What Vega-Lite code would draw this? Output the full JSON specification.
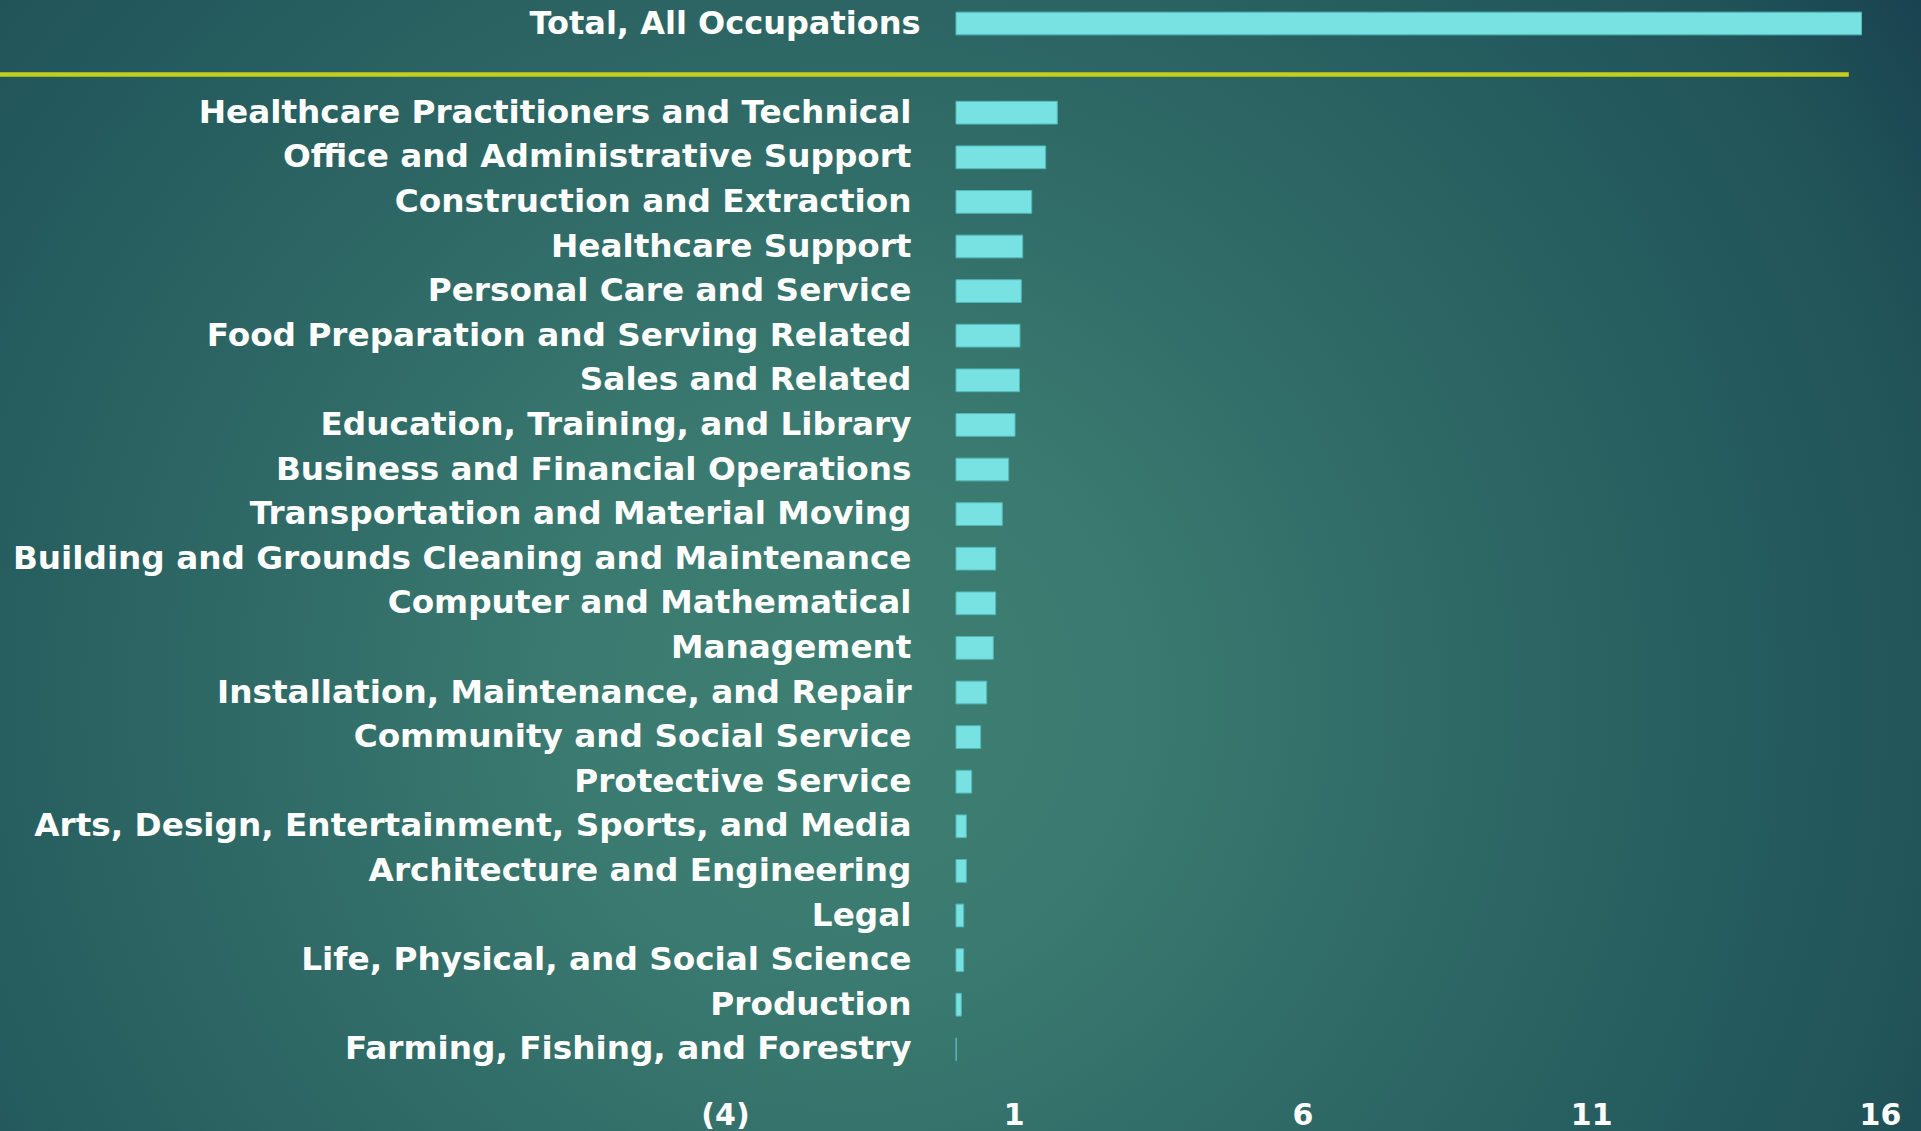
{
  "$schema": "https://vega.github.io/schema/vega-lite/v6.json",
  "width": 1921,
  "height": 1131,
  "autosize": {"type": "none"},
  "padding": 0,
  "background": "#1f4f58",
  "config": {"view": {"stroke": null}},
  "datasets": {
    "jobs": [
      {"occupation": "Total, All Occupations", "value": 15.68},
      {"occupation": "Healthcare Practitioners and Technical", "value": 1.754},
      {"occupation": "Office and Administrative Support", "value": 1.553},
      {"occupation": "Construction and Extraction", "value": 1.311},
      {"occupation": "Healthcare Support", "value": 1.155},
      {"occupation": "Personal Care and Service", "value": 1.131},
      {"occupation": "Food Preparation and Serving Related", "value": 1.108},
      {"occupation": "Sales and Related", "value": 1.1},
      {"occupation": "Education, Training, and Library", "value": 1.022},
      {"occupation": "Business and Financial Operations", "value": 0.912},
      {"occupation": "Transportation and Material Moving", "value": 0.802},
      {"occupation": "Building and Grounds Cleaning and Maintenance", "value": 0.687},
      {"occupation": "Computer and Mathematical", "value": 0.687},
      {"occupation": "Management", "value": 0.646},
      {"occupation": "Installation, Maintenance, and Repair", "value": 0.531},
      {"occupation": "Community and Social Service", "value": 0.427},
      {"occupation": "Protective Service", "value": 0.271},
      {"occupation": "Arts, Design, Entertainment, Sports, and Media", "value": 0.179},
      {"occupation": "Architecture and Engineering", "value": 0.179},
      {"occupation": "Legal", "value": 0.133},
      {"occupation": "Life, Physical, and Social Science", "value": 0.133},
      {"occupation": "Production", "value": 0.092},
      {"occupation": "Farming, Fishing, and Forestry", "value": 0.005}
    ]
  },
  "layer": [
    {
      "data": {"values": [{}]},
      "mark": {
        "type": "rect",
        "fill": {
          "gradient": "radial",
          "x1": 0.44, "y1": 0.57, "r1": 0,
          "x2": 0.44, "y2": 0.57, "r2": 0.7,
          "stops": [
            {"offset": 0, "color": "#3e7f73"},
            {"offset": 0.21, "color": "#3a7a70"},
            {"offset": 0.43, "color": "#306b67"},
            {"offset": 0.67, "color": "#255c5e"},
            {"offset": 0.82, "color": "#215459"},
            {"offset": 1, "color": "#163d4d"}
          ]
        }
      },
      "encoding": {
        "x": {"datum": -16.554, "type": "quantitative", "scale": {"domain": [-16.554, 16.71], "nice": false, "zero": false}},
        "x2": {"datum": 16.71}
      }
    },
    {
      "data": {"values": [{}]},
      "mark": {"type": "rule", "color": "#C6CE1C", "strokeWidth": 4.5, "yOffset": 6.4},
      "encoding": {
        "x": {"datum": -16.554, "type": "quantitative"},
        "x2": {"datum": 15.46},
        "y": {"datum": " ", "type": "nominal"}
      }
    },
    {
      "data": {"name": "jobs"},
      "mark": {"type": "bar", "fill": "#78E2E2", "stroke": "#52b8b8", "strokeWidth": 1},
      "encoding": {
        "x": {
          "field": "value",
          "type": "quantitative",
          "axis": {
            "values": [-4, 1, 6, 11, 16],
            "labelExpr": "datum.value < 0 ? '(' + abs(datum.value) + ')' : datum.value",
            "title": null,
            "domain": false,
            "ticks": false,
            "tickSize": 0,
            "grid": false,
            "labelPadding": 0,
            "offset": -31,
            "labelFont": "DejaVu Sans",
            "labelFontWeight": "bold",
            "labelFontSize": 30,
            "labelColor": "#ffffff",
            "labelFlush": false,
            "labelOverlap": false,
            "zindex": 1
          }
        },
        "y": {
          "field": "occupation",
          "type": "nominal",
          "sort": null,
          "scale": {
            "domain": [
              "Total, All Occupations",
              " ",
              "Healthcare Practitioners and Technical",
              "Office and Administrative Support",
              "Construction and Extraction",
              "Healthcare Support",
              "Personal Care and Service",
              "Food Preparation and Serving Related",
              "Sales and Related",
              "Education, Training, and Library",
              "Business and Financial Operations",
              "Transportation and Material Moving",
              "Building and Grounds Cleaning and Maintenance",
              "Computer and Mathematical",
              "Management",
              "Installation, Maintenance, and Repair",
              "Community and Social Service",
              "Protective Service",
              "Arts, Design, Entertainment, Sports, and Media",
              "Architecture and Engineering",
              "Legal",
              "Life, Physical, and Social Science",
              "Production",
              "Farming, Fishing, and Forestry"
            ],
            "range": [1.2, 1071.6],
            "paddingInner": 0.49,
            "paddingOuter": 0.245
          },
          "axis": {
            "title": null,
            "domain": false,
            "ticks": false,
            "tickSize": 0,
            "grid": false,
            "offset": -911,
            "labelPadding": {"condition": {"test": "datum.value === 'Total, All Occupations'", "value": -9}, "value": 0},
            "labelFont": "DejaVu Sans",
            "labelFontWeight": "bold",
            "labelFontSize": {"condition": {"test": "datum.value === 'Total, All Occupations'", "value": 32}, "value": 32.7},
            "labelColor": "#ffffff",
            "labelLimit": 0,
            "labelOverlap": false,
            "zindex": 1
          }
        }
      }
    }
  ]
}
